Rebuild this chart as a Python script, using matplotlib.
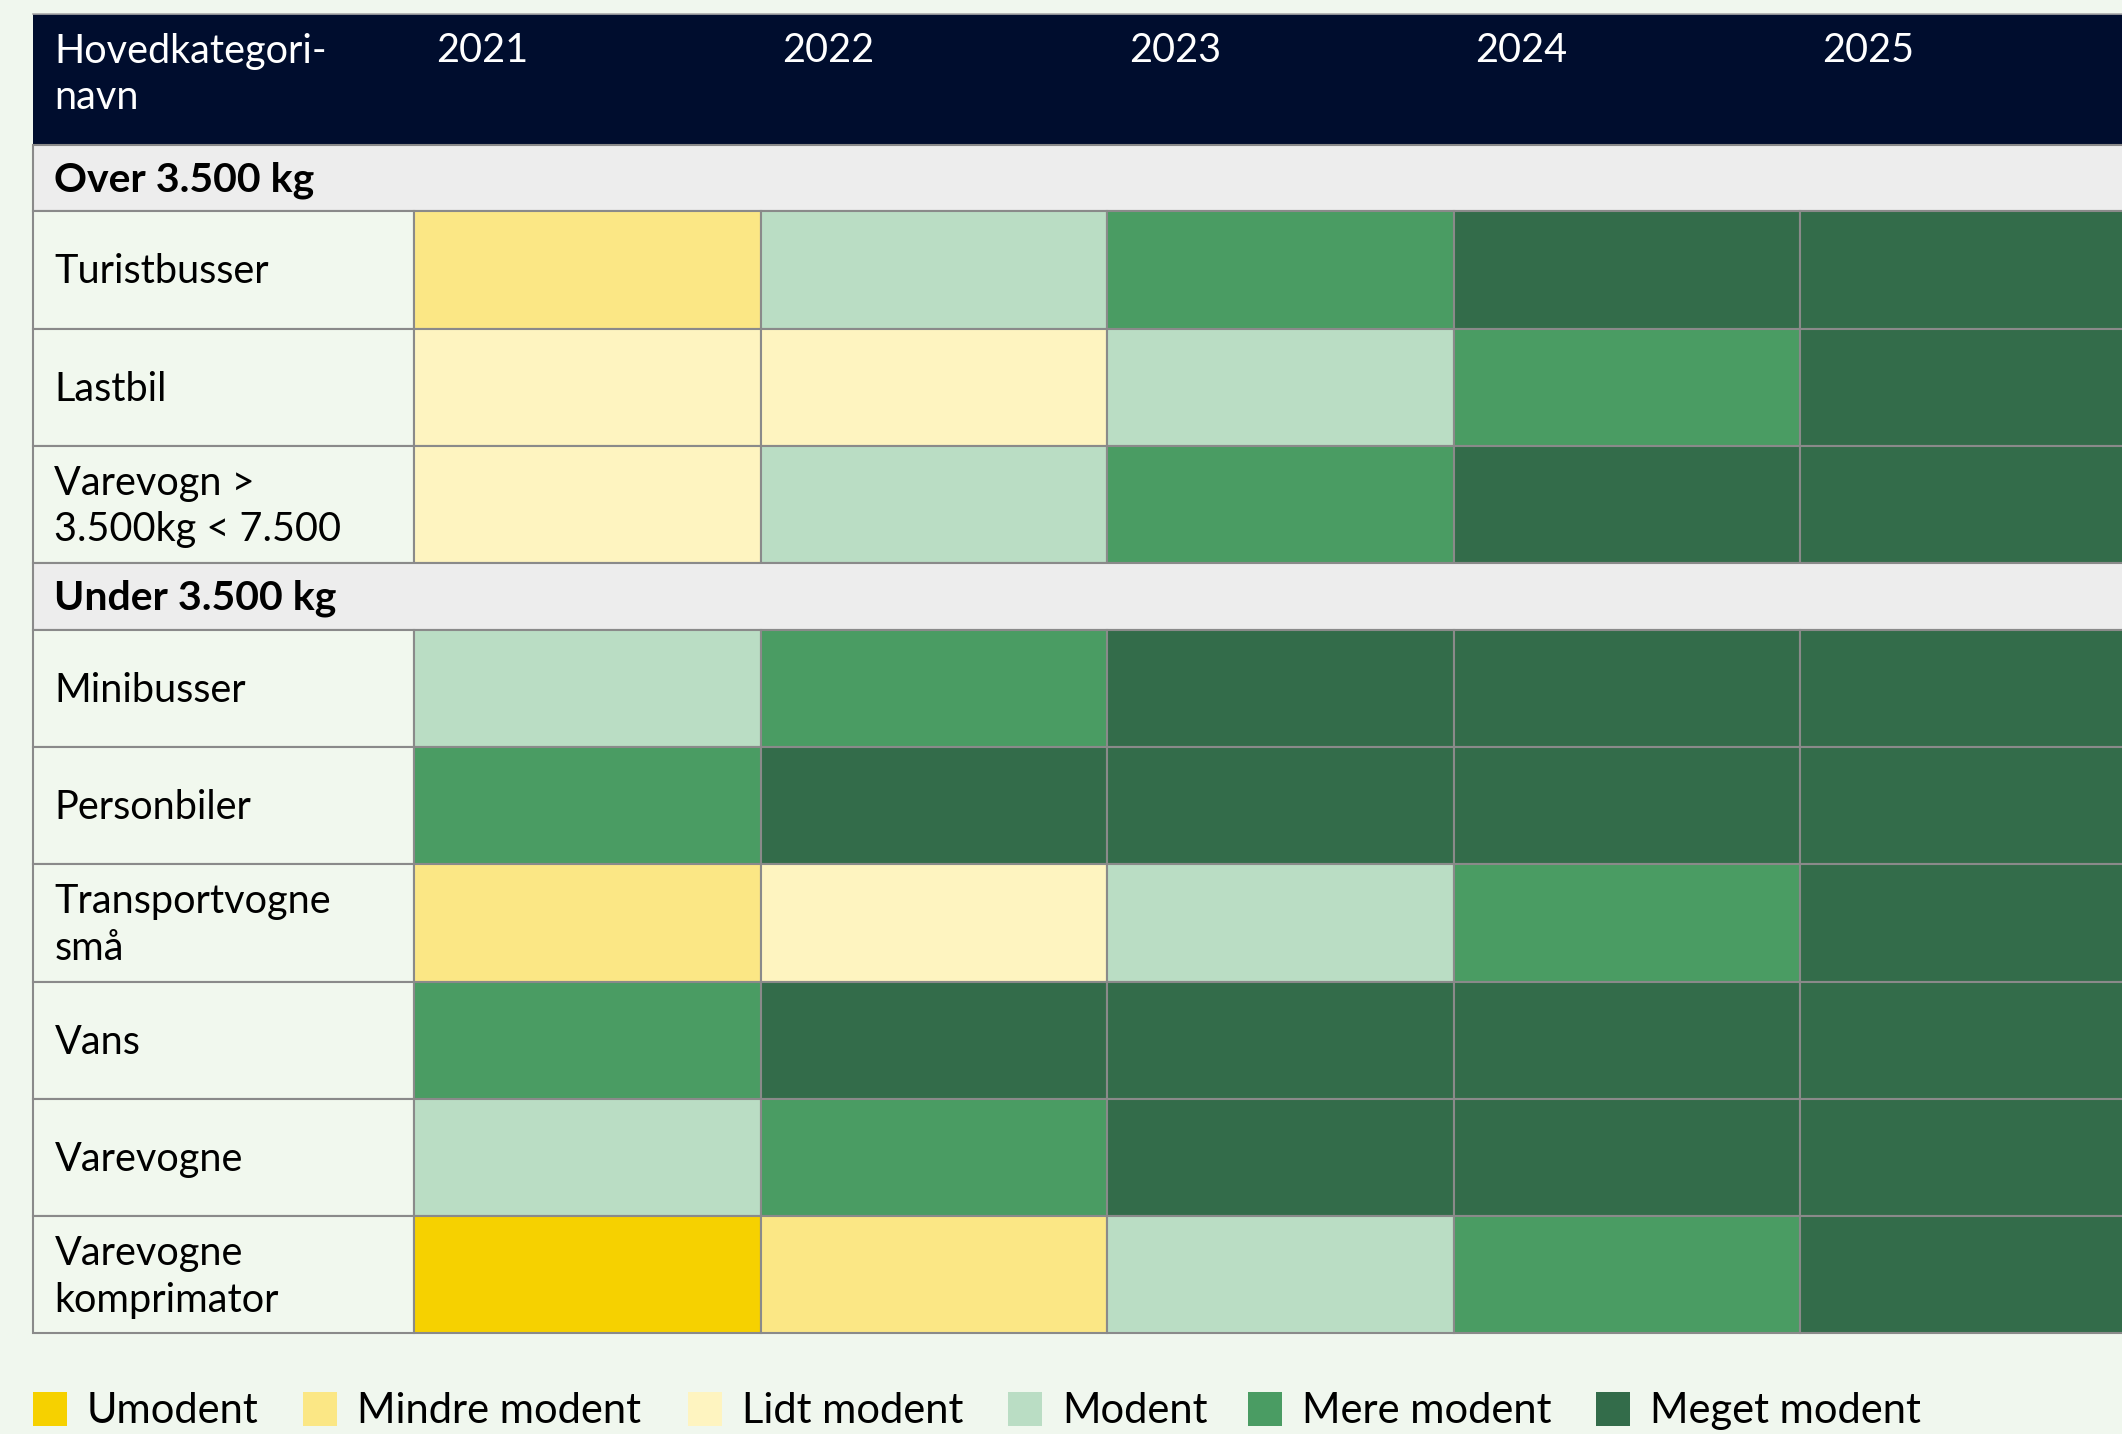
import matplotlib
import matplotlib.pyplot as plt
from matplotlib.patches import Rectangle

matplotlib.rcParams['font.family'] = ['Lato', 'DejaVu Sans']

# modenhedsniveauer
levels = ['Umodent', 'Mindre modent', 'Lidt modent', 'Modent', 'Mere modent', 'Meget modent']
level_colors = ['#F6D100', '#FBE785', '#FEF4C0', '#BADDC4', '#4A9C63', '#336C4A']

years = ['2021', '2022', '2023', '2024', '2025']

over_names = ['Turistbusser', 'Lastbil', 'Varevogn >\n3.500kg < 7.500']
over_values = [
    [1, 3, 4, 5, 5],
    [2, 2, 3, 4, 5],
    [2, 3, 4, 5, 5],
]

under_names = ['Minibusser', 'Personbiler', 'Transportvogne\nsmå', 'Vans', 'Varevogne',
               'Varevogne\nkomprimator']
under_values = [
    [3, 4, 5, 5, 5],
    [4, 5, 5, 5, 5],
    [1, 2, 3, 4, 5],
    [4, 5, 5, 5, 5],
    [3, 4, 5, 5, 5],
    [0, 1, 3, 4, 5],
]

groups = [('Over 3.500 kg', over_names, over_values),
          ('Under 3.500 kg', under_names, under_values)]

# layout (pixels)
W, H = 2122, 1434
X0, LABEL_W, COL_W = 32.5, 381.5, 346.5
TOP, HEAD_H, GROUP_H, ROW_H = 13.5, 131.3, 66.5, 117.3
TABLE_W = LABEL_W + COL_W * len(years)
GRID = '#8a8a8a'
BG = '#F0F7EE'
FS = 28.5

fig = plt.figure(figsize=(W / 100, H / 100), dpi=100, facecolor=BG)
ax = fig.add_axes([0, 0, 1, 1])
ax.set_xlim(0, W)
ax.set_ylim(H, 0)
ax.axis('off')

# header
ax.add_patch(Rectangle((X0, TOP), TABLE_W, HEAD_H, facecolor='#000D2E', edgecolor='none'))
ax.plot([X0, X0 + TABLE_W], [TOP, TOP], color='#aaaaaa', lw=1.2)
ax.text(X0 + 22, TOP + 19, 'Hovedkategori-\nnavn', color='white', fontsize=FS,
        va='top', ha='left', linespacing=1.32)
for j, yr in enumerate(years):
    ax.text(X0 + LABEL_W + j * COL_W + 22, TOP + 19, yr, color='white', fontsize=FS,
            va='top', ha='left')

y = TOP + HEAD_H
for gname, names, values in groups:
    ax.add_patch(Rectangle((X0, y), TABLE_W, GROUP_H, facecolor='#EDEDED',
                           edgecolor=GRID, lw=1.5))
    ax.text(X0 + 22, y + GROUP_H / 2 + 2, gname, fontsize=29.5, fontweight='bold',
            va='center', ha='left', color='black')
    y += GROUP_H
    for name, row in zip(names, values):
        ax.add_patch(Rectangle((X0, y), LABEL_W, ROW_H, facecolor='#F1F8EE',
                               edgecolor=GRID, lw=1.5))
        ax.text(X0 + 22, y + ROW_H / 2 + 2, name, fontsize=FS, va='center', ha='left',
                color='black', linespacing=1.32)
        for j, v in enumerate(row):
            ax.add_patch(Rectangle((X0 + LABEL_W + j * COL_W, y), COL_W, ROW_H,
                                   facecolor=level_colors[v], edgecolor=GRID, lw=1.5))
        y += ROW_H

# legend
legend_x = [32.5, 303, 687.5, 1008, 1248, 1595.5]
LEG_Y = 1409
for lx, lab, col in zip(legend_x, levels, level_colors):
    ax.add_patch(Rectangle((lx, LEG_Y - 17), 34, 34, facecolor=col, edgecolor='none'))
    ax.text(lx + 54, LEG_Y + 2, lab, fontsize=30, va='center', ha='left', color='black')

fig.savefig('out.png', dpi=100, facecolor=BG)
